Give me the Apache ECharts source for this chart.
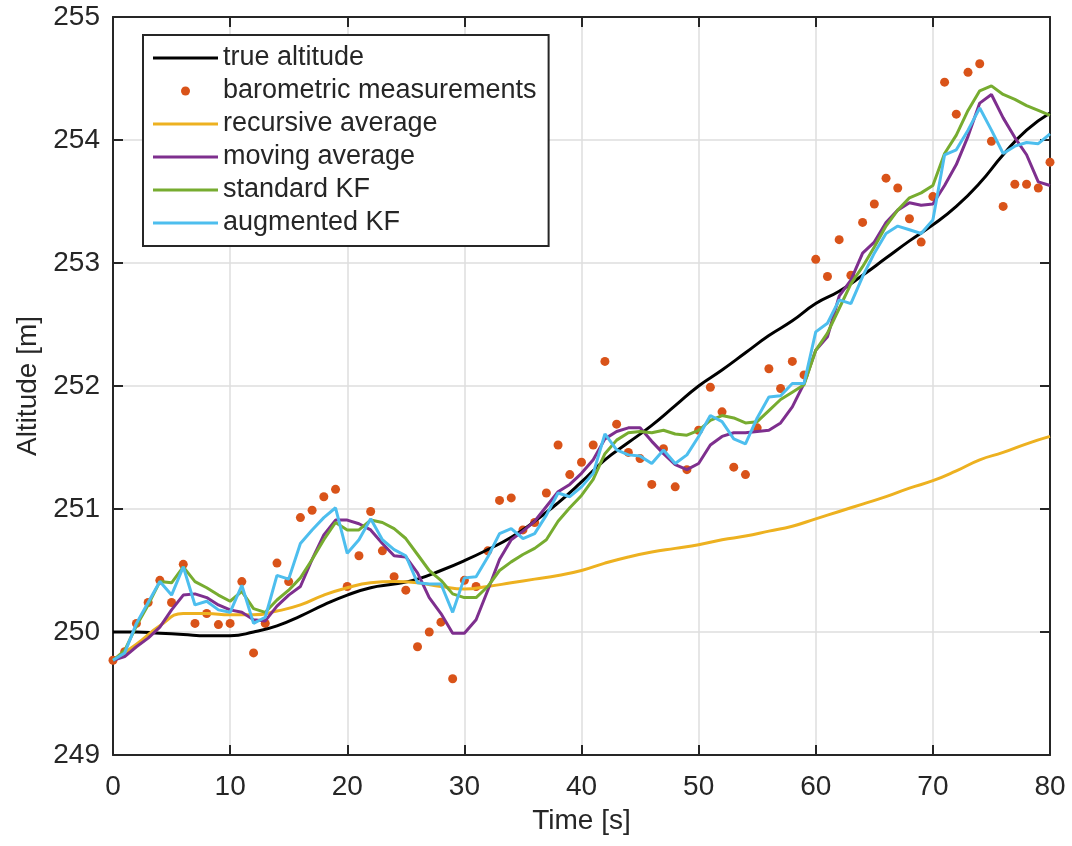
<!DOCTYPE html>
<html>
<head>
    <meta charset="utf-8">
    <title>Altitude estimation</title>
    <script src="https://cdn.jsdelivr.net/npm/echarts@6/dist/echarts.min.js"></script>
    <style>
        html, body { margin: 0; padding: 0; background: #ffffff; }
        #chart { width: 1072px; height: 846px; }
    </style>
</head>
<body>
<div id="chart"></div>
<script>
    // time stamps [s]
    var timeSec = [0, 1, 2, 3, 4, 5, 6, 7, 8, 9, 10, 11, 12, 13, 14, 15, 16, 17, 18, 19, 20,
        21, 22, 23, 24, 25, 26, 27, 28, 29, 30, 31, 32, 33, 34, 35, 36, 37, 38, 39, 40,
        41, 42, 43, 44, 45, 46, 47, 48, 49, 50, 51, 52, 53, 54, 55, 56, 57, 58, 59, 60,
        61, 62, 63, 64, 65, 66, 67, 68, 69, 70, 71, 72, 73, 74, 75, 76, 77, 78, 79, 80];
    var timeEven = [0, 2, 4, 6, 8, 10, 12, 14, 16, 18, 20, 22, 24, 26, 28, 30, 32, 34, 36, 38, 40,
        42, 44, 46, 48, 50, 52, 54, 56, 58, 60, 62, 64, 66, 68, 70, 72, 74, 76, 78, 80];

    // true altitude, sampled every 2 s
    var trueAltitude = [250.00, 250.00, 249.99, 249.98, 249.97, 249.97, 250.00, 250.05, 250.13, 250.22, 250.30,
        250.36, 250.39, 250.43, 250.50, 250.58, 250.67, 250.77, 250.90, 251.05, 251.22,
        251.40, 251.54, 251.68, 251.84, 252.00, 252.13, 252.27, 252.41, 252.53, 252.67,
        252.77, 252.90, 253.04, 253.18, 253.31, 253.46, 253.65, 253.88, 254.08, 254.22];

    // barometric measurements, every second
    var baroMeas = [249.77, 249.84, 250.07, 250.24, 250.42, 250.24, 250.55, 250.07, 250.15, 250.06, 250.07,
        250.41, 249.83, 250.07, 250.56, 250.41, 250.93, 250.99, 251.10, 251.16, 250.37,
        250.62, 250.98, 250.66, 250.45, 250.34, 249.88, 250.00, 250.08, 249.62, 250.42,
        250.37, 250.66, 251.07, 251.09, 250.83, 250.89, 251.13, 251.52, 251.28, 251.38,
        251.52, 252.20, 251.69, 251.46, 251.41, 251.20, 251.49, 251.18, 251.32, 251.64,
        251.99, 251.79, 251.34, 251.28, 251.66, 252.14, 251.98, 252.20, 252.09, 253.03,
        252.89, 253.19, 252.90, 253.33, 253.48, 253.69, 253.61, 253.36, 253.17, 253.54,
        254.47, 254.21, 254.55, 254.62, 253.99, 253.46, 253.64, 253.64, 253.61, 253.82];

    // recursive average, sampled every 2 s
    var recursiveAvg = [249.77, 249.90, 250.05, 250.15, 250.15, 250.14, 250.14, 250.17, 250.22, 250.30, 250.36,
        250.40, 250.41, 250.40, 250.37, 250.35, 250.37, 250.40, 250.43, 250.46, 250.50,
        250.56, 250.61, 250.65, 250.68, 250.71, 250.75, 250.78, 250.82, 250.86, 250.92,
        250.98, 251.04, 251.10, 251.17, 251.23, 251.31, 251.40, 251.46, 251.53, 251.59];

    // moving average, every second
    var movingAvg = [249.77, 249.80, 249.88, 249.95, 250.04, 250.18, 250.30, 250.31, 250.28, 250.22, 250.18,
        250.16, 250.10, 250.09, 250.21, 250.30, 250.37, 250.59, 250.79, 250.91, 250.91,
        250.88, 250.83, 250.72, 250.62, 250.61, 250.48, 250.28, 250.15, 249.99, 249.99,
        250.10, 250.34, 250.59, 250.75, 250.82, 250.90, 251.02, 251.14, 251.20, 251.29,
        251.40, 251.57, 251.63, 251.66, 251.66, 251.55, 251.45, 251.36, 251.32, 251.37,
        251.52, 251.59, 251.62, 251.62, 251.63, 251.64, 251.70, 251.83, 252.02, 252.29,
        252.40, 252.73, 252.86, 253.08, 253.17, 253.33, 253.43, 253.49, 253.47, 253.48,
        253.63, 253.80, 254.03, 254.30, 254.37, 254.18, 254.02, 253.88, 253.66, 253.63];

    // standard Kalman filter, every second
    var standardKF = [249.77, 249.85, 250.05, 250.22, 250.41, 250.40, 250.53, 250.41, 250.36, 250.30, 250.25,
        250.33, 250.19, 250.16, 250.26, 250.34, 250.44, 250.59, 250.75, 250.89, 250.83,
        250.83, 250.91, 250.89, 250.84, 250.76, 250.63, 250.50, 250.42, 250.31, 250.28,
        250.28, 250.37, 250.50, 250.57, 250.63, 250.68, 250.75, 250.90, 251.01, 251.11,
        251.24, 251.45, 251.56, 251.62, 251.63, 251.62, 251.64, 251.61, 251.60, 251.64,
        251.72, 251.76, 251.74, 251.70, 251.71, 251.80, 251.89, 251.95, 252.01, 252.29,
        252.43, 252.63, 252.83, 252.97, 253.13, 253.30, 253.43, 253.53, 253.57, 253.63,
        253.89, 254.04, 254.24, 254.40, 254.44, 254.37, 254.33, 254.28, 254.24, 254.20];

    // augmented Kalman filter, every second
    var augmentedKF = [249.77, 249.83, 250.07, 250.24, 250.41, 250.30, 250.53, 250.22, 250.25, 250.18, 250.16,
        250.38, 250.07, 250.12, 250.46, 250.43, 250.72, 250.83, 250.93, 251.01, 250.64,
        250.75, 250.92, 250.75, 250.67, 250.62, 250.40, 250.39, 250.39, 250.16, 250.44,
        250.45, 250.61, 250.80, 250.84, 250.76, 250.80, 250.95, 251.13, 251.10, 251.18,
        251.29, 251.61, 251.48, 251.44, 251.43, 251.37, 251.48, 251.37, 251.44, 251.59,
        251.76, 251.71, 251.57, 251.53, 251.74, 251.91, 251.92, 252.02, 252.02, 252.44,
        252.51, 252.70, 252.67, 252.89, 253.08, 253.24, 253.30, 253.27, 253.24, 253.35,
        253.88, 253.92, 254.08, 254.26, 254.08, 253.89, 253.95, 253.98, 253.97, 254.05];

    var seriesNames = ['true altitude', 'barometric measurements', 'recursive average',
        'moving average', 'standard KF', 'augmented KF'];

    function pairUp(xs, ys) {
        var out = [];
        for (var i = 0; i < xs.length; i++) {
            out.push([xs[i], ys[i]]);
        }
        return out;
    }

    var fontFam = "'Liberation Sans', Arial, Helvetica, sans-serif";
    var inkColor = '#262626';
    // flat bar used as legend sample for the line series
    var lineIcon = 'path://M0,0 L65,0 L65,3 L0,3 Z';

    var chart = echarts.init(document.getElementById('chart'));

    var lineSeries = function (name, xs, ys, color, smooth) {
        return {
            name: name,
            type: 'line',
            data: pairUp(xs, ys),
            symbol: 'none',
            smooth: smooth,
            lineStyle: { color: color, width: 3 },
            itemStyle: { color: color },
            animation: false
        };
    };

    var legendItems = [];
    for (var k = 0; k < seriesNames.length; k++) {
        legendItems.push({
            name: seriesNames[k],
            icon: k === 1 ? 'circle' : lineIcon
        });
    }

    var option = {
        animation: false,
        backgroundColor: '#ffffff',
        grid: {
            left: 113,
            right: 22,
            top: 17,
            bottom: 91
        },
        legend: {
            orient: 'vertical',
            left: 143,
            top: 35,
            data: legendItems,
            itemWidth: 65,
            itemHeight: 9,
            itemGap: 5,
            symbolKeepAspect: true,
            padding: [9, 12, 9, 10],
            backgroundColor: '#ffffff',
            borderColor: inkColor,
            borderWidth: 2,
            borderRadius: 0,
            textStyle: {
                fontFamily: fontFam,
                fontSize: 27,
                lineHeight: 28,
                color: inkColor
            }
        },
        xAxis: [
            {
                type: 'value',
                min: 0,
                max: 80,
                interval: 10,
                name: 'Time [s]',
                nameLocation: 'middle',
                nameGap: 52,
                nameTextStyle: { fontFamily: fontFam, fontSize: 28, color: inkColor },
                axisLine: { show: true, onZero: false, lineStyle: { color: inkColor, width: 2 } },
                axisTick: { show: true, inside: true, length: 10, lineStyle: { color: inkColor, width: 2 } },
                axisLabel: { fontFamily: fontFam, fontSize: 28, color: inkColor, margin: 18 },
                splitLine: { show: true, lineStyle: { color: '#dedede', width: 1.5 } }
            },
            {
                type: 'value',
                position: 'top',
                min: 0,
                max: 80,
                interval: 10,
                axisLine: { show: true, onZero: false, lineStyle: { color: inkColor, width: 2 } },
                axisTick: { show: true, inside: true, length: 10, lineStyle: { color: inkColor, width: 2 } },
                axisLabel: { show: false },
                splitLine: { show: false }
            }
        ],
        yAxis: [
            {
                type: 'value',
                min: 249,
                max: 255,
                interval: 1,
                name: 'Altitude [m]',
                nameLocation: 'middle',
                nameGap: 66,
                nameTextStyle: { fontFamily: fontFam, fontSize: 28, color: inkColor },
                axisLine: { show: true, onZero: false, lineStyle: { color: inkColor, width: 2 } },
                axisTick: { show: true, inside: true, length: 10, lineStyle: { color: inkColor, width: 2 } },
                axisLabel: { fontFamily: fontFam, fontSize: 28, color: inkColor, margin: 13 },
                splitLine: { show: true, lineStyle: { color: '#dedede', width: 1.5 } }
            },
            {
                type: 'value',
                position: 'right',
                min: 249,
                max: 255,
                interval: 1,
                axisLine: { show: true, onZero: false, lineStyle: { color: inkColor, width: 2 } },
                axisTick: { show: true, inside: true, length: 10, lineStyle: { color: inkColor, width: 2 } },
                axisLabel: { show: false },
                splitLine: { show: false }
            }
        ],
        series: [
            lineSeries(seriesNames[0], timeEven, trueAltitude, '#000000', true),
            {
                name: seriesNames[1],
                type: 'scatter',
                data: pairUp(timeSec, baroMeas),
                symbol: 'circle',
                symbolSize: 9,
                itemStyle: { color: '#D95319', opacity: 1 },
                animation: false
            },
            lineSeries(seriesNames[2], timeEven, recursiveAvg, '#EDB120', true),
            lineSeries(seriesNames[3], timeSec, movingAvg, '#7E2F8E', false),
            lineSeries(seriesNames[4], timeSec, standardKF, '#77AC30', false),
            lineSeries(seriesNames[5], timeSec, augmentedKF, '#4DBEEE', false)
        ]
    };

    chart.setOption(option);
</script>
</body>
</html>
